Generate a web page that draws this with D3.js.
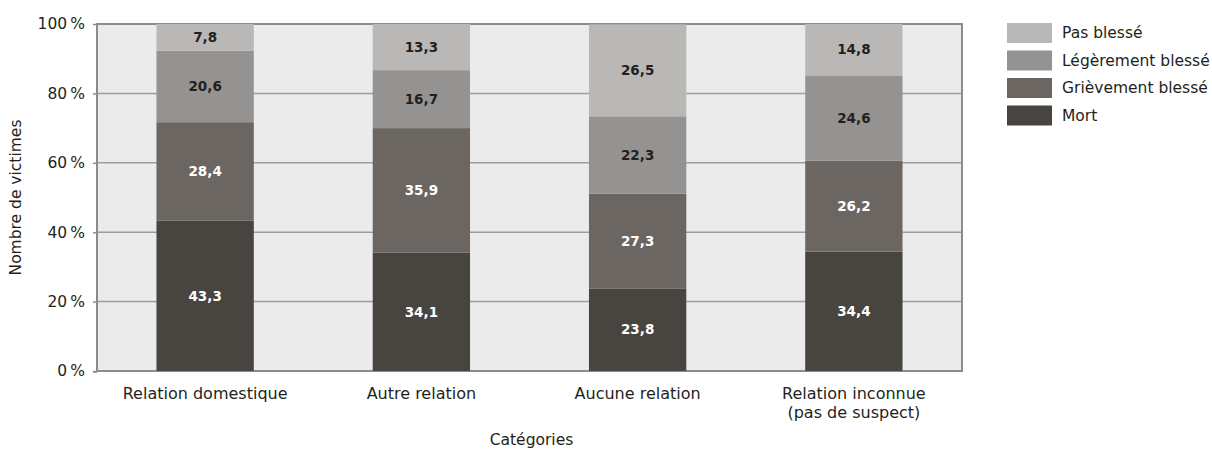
<!DOCTYPE html>
<html>
<head>
<meta charset="utf-8">
<script src="https://cdn.jsdelivr.net/npm/d3@7"></script>
<style>
  html, body { margin: 0; padding: 0; background: #fff; }
  svg { display: block; font-family: "DejaVu Sans", "Noto Sans", sans-serif; }
</style>
</head>
<body>
<svg id="chart" width="1212" height="450"></svg>
<script>
// Victims by relationship to suspect, share (%) by injury outcome
const categories = ["Relation domestique", "Autre relation", "Aucune relation", "Relation inconnue\n(pas de suspect)"];
const seriesNames = ["Mort", "Grièvement blessé", "Légèrement blessé", "Pas blessé"];
const mort        = [43.3, 34.1, 23.8, 34.4];
const grievement  = [28.4, 35.9, 27.3, 26.2];
const legerement  = [20.6, 16.7, 22.3, 24.6];
const pasBlesse   = [7.8, 13.3, 26.5, 14.8];
const yTicks = [0, 20, 40, 60, 80, 100];

const seriesColors = ["#48443f", "#6b6661", "#959391", "#b9b8b6"];
const labelColors  = ["#ffffff", "#ffffff", "#231f20", "#231f20"];

const rows = categories.map((c, i) => ({
  cat: c,
  "Mort": mort[i],
  "Grièvement blessé": grievement[i],
  "Légèrement blessé": legerement[i],
  "Pas blessé": pasBlesse[i]
}));

const stacked = d3.stack().keys(seriesNames)(rows);

const svg = d3.select("#chart");
const m = { left: 97, right: 962, top: 24, bottom: 371 };

const x = d3.scaleBand().domain(categories).range([m.left, m.right]).paddingInner(0.55).paddingOuter(0.275);
const y = d3.scaleLinear().domain([0, 100]).range([m.bottom, m.top]);

// plot background
svg.append("rect")
  .attr("x", m.left).attr("y", m.top)
  .attr("width", m.right - m.left).attr("height", m.bottom - m.top)
  .attr("fill", "#ebebeb");

// horizontal gridlines
svg.append("g").selectAll("line").data(yTicks.filter(t => t > 0 && t < 100)).join("line")
  .attr("x1", m.left).attr("x2", m.right)
  .attr("y1", d => y(d)).attr("y2", d => y(d))
  .attr("stroke", "#9d9d9d").attr("stroke-width", 1.5);

// frame
svg.append("rect")
  .attr("x", m.left).attr("y", m.top)
  .attr("width", m.right - m.left).attr("height", m.bottom - m.top)
  .attr("fill", "none").attr("stroke", "#8c8c8c").attr("stroke-width", 2);

// stacked bars
const layer = svg.append("g").selectAll("g").data(stacked).join("g")
  .attr("fill", (d, i) => seriesColors[i]);

layer.selectAll("rect").data(d => d).join("rect")
  .attr("x", d => x(d.data.cat))
  .attr("width", x.bandwidth())
  .attr("y", d => y(Math.min(100, d[1])))
  .attr("height", d => y(d[0]) - y(Math.min(100, d[1])));

// value labels
const fmt = v => d3.format(".1f")(v).replace(".", ",");
svg.append("g").selectAll("g").data(stacked).join("g")
  .attr("fill", (d, i) => labelColors[i])
  .selectAll("text").data(d => d).join("text")
  .attr("x", d => x(d.data.cat) + x.bandwidth() / 2)
  .attr("y", d => (y(d[0]) + y(Math.min(100, d[1]))) / 2)
  .attr("dy", "0.35em")
  .attr("text-anchor", "middle")
  .attr("font-size", 13.5)
  .attr("font-weight", "bold")
  .text(d => fmt(d[1] - d[0]));

// y axis
const yAxis = d3.axisLeft(y).tickValues(yTicks).tickSize(4).tickPadding(8)
  .tickFormat(d => d + "\u2009%");
const ya = svg.append("g").attr("transform", `translate(${m.left},0)`).call(yAxis);
ya.select(".domain").remove();
ya.selectAll(".tick line").attr("stroke", "#8c8c8c").attr("stroke-width", 1.5);
ya.selectAll(".tick text").attr("font-size", 15.5).attr("fill", "#231f20")
  .attr("font-family", "'DejaVu Sans', sans-serif");

// bottom axis tick stub at origin
svg.append("line").attr("x1", m.left - 4).attr("x2", m.left)
  .attr("y1", m.bottom + 1).attr("y2", m.bottom + 1)
  .attr("stroke", "#8c8c8c").attr("stroke-width", 1.5);

// category labels
svg.append("g").selectAll("text").data(categories).join("text")
  .attr("x", d => x(d) + x.bandwidth() / 2)
  .attr("y", 399)
  .attr("text-anchor", "middle")
  .attr("font-size", 16)
  .attr("fill", "#231f20")
  .each(function(d) {
    const lines = d.split("\n");
    d3.select(this).selectAll("tspan").data(lines).join("tspan")
      .attr("x", x(d) + x.bandwidth() / 2)
      .attr("dy", (l, i) => i === 0 ? 0 : 19)
      .text(l => l);
  });

// axis titles
svg.append("text")
  .attr("x", (m.left + m.right) / 2 + 2).attr("y", 445)
  .attr("text-anchor", "middle").attr("font-size", 15.5).attr("fill", "#231f20")
  .text("Catégories");

svg.append("text")
  .attr("transform", `translate(21,${(m.top + m.bottom) / 2}) rotate(-90)`)
  .attr("text-anchor", "middle").attr("font-size", 15.5).attr("fill", "#231f20")
  .text("Nombre de victimes");

// legend, top entry is the top segment
const legendOrder = seriesNames.map((n, i) => ({ name: n, color: seriesColors[i] })).reverse();
const lg = svg.append("g").selectAll("g").data(legendOrder).join("g")
  .attr("transform", (d, i) => `translate(1007,${23 + i * 27.5})`);
lg.append("rect").attr("width", 45).attr("height", 20).attr("fill", d => d.color);
lg.append("text").attr("x", 55).attr("y", 10).attr("dy", "0.35em")
  .attr("font-size", 15.5).attr("fill", "#231f20").text(d => d.name);
</script>
</body>
</html>
